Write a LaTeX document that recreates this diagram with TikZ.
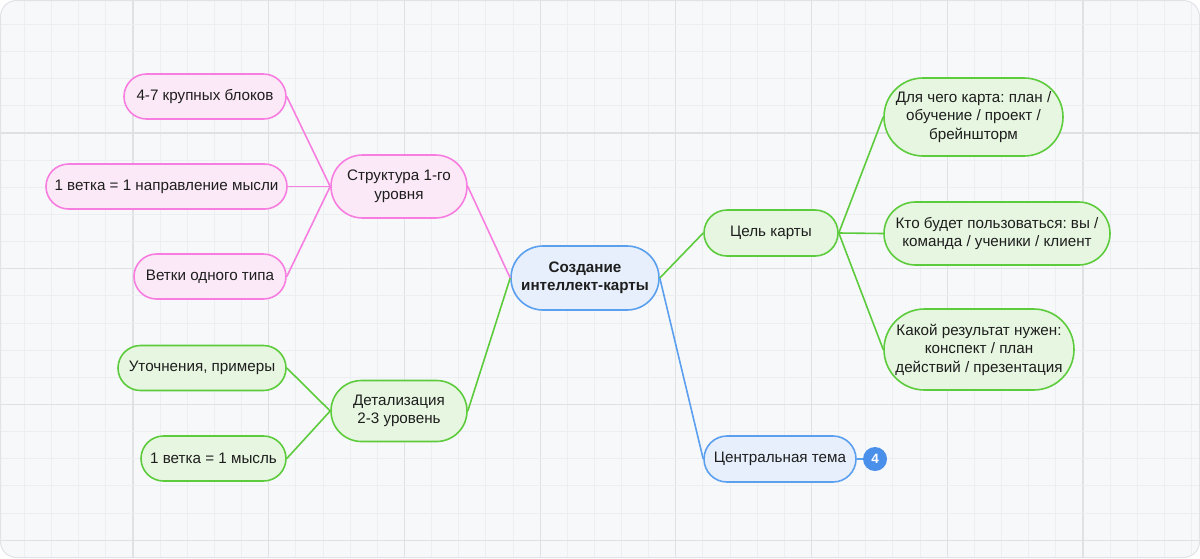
\documentclass[tikz,border=0pt]{standalone}
\usepackage{fontspec}
\setmainfont{Liberation Sans}
\frenchspacing
\usetikzlibrary{shapes.misc}
\definecolor{bgc}{HTML}{F7F8FA}
\definecolor{bgborder}{HTML}{E2E3E7}
\definecolor{gridminor}{HTML}{EDEEF1}
\definecolor{gridmajor}{HTML}{E0E1E5}
\definecolor{pinkline}{HTML}{F77EE0}
\definecolor{pinkfill}{HTML}{FBE9F7}
\definecolor{greenline}{HTML}{5CCB3C}
\definecolor{greenfill}{HTML}{E7F6E1}
\definecolor{blueline}{HTML}{5B9FEF}
\definecolor{bluefill}{HTML}{E6EFFB}
\definecolor{badgefill}{HTML}{4A8FEA}
\definecolor{txt}{HTML}{1E1E1E}
\tikzset{
  box/.style={rounded rectangle, draw, line width=1.6pt, inner sep=0pt, align=center,
    text=txt, font=\fontsize{15.2}{18.5}\selectfont\frenchspacing},
  pinkbox/.style={box, draw=pinkline, fill=pinkfill},
  greenbox/.style={box, draw=greenline, fill=greenfill},
  bluebox/.style={box, draw=blueline, fill=bluefill},
  pinkcon/.style={draw=pinkline, line width=1.6pt},
  greencon/.style={draw=greenline, line width=1.6pt},
  bluecon/.style={draw=blueline, line width=1.6pt},
}
\begin{document}
\begin{tikzpicture}[x=1pt,y=-1pt]
\useasboundingbox (0,0) rectangle (1200,558);
\fill[white] (0,0) rectangle (1200,558);
\begin{scope}
\path[clip, rounded corners=16pt] (0.5,0.5) rectangle (1199.5,557.5);
\fill[bgc] (0,0) rectangle (1200,558);
\foreach \k in {0,...,45}{
  \pgfmathsetmacro{\p}{-2.7+27.14*\k}
  \pgfmathtruncatemacro{\m}{mod(\k,5)}
  \ifnum\m=0
    \draw[gridmajor, line width=1.2pt] (\p,0) -- (\p,558);
  \else
    \draw[gridminor, line width=0.9pt] (\p,0) -- (\p,558);
  \fi
}
\foreach \k in {0,...,21}{
  \pgfmathsetmacro{\p}{-2.7+27.14*\k}
  \pgfmathtruncatemacro{\m}{mod(\k,5)}
  \ifnum\m=0
    \draw[gridmajor, line width=1.2pt] (0,\p) -- (1200,\p);
  \else
    \draw[gridminor, line width=0.9pt] (0,\p) -- (1200,\p);
  \fi
}
\end{scope}
\draw[bgborder, line width=1pt, rounded corners=16pt] (0.5,0.5) rectangle (1199.5,557.5);

% nodes
\node[bluebox, minimum width=148pt, minimum height=64pt, font=\fontsize{15.2}{18.5}\selectfont\bfseries] (c) at (585,278) {Создание\\интеллект-карты};

\node[pinkbox, minimum width=136pt, minimum height=63pt] (s) at (399,186.5) {Структура 1-го\\уровня};
\node[pinkbox, minimum width=162pt, minimum height=45pt] (p1) at (205,96.5) {4-7 крупных блоков};
\node[pinkbox, minimum width=241pt, minimum height=45pt] (p2) at (166.5,186.5) {1 ветка = 1 направление мысли};
\node[pinkbox, minimum width=152pt, minimum height=45pt] (p3) at (210,276.5) {Ветки одного типа};

\node[greenbox, minimum width=136pt, minimum height=61pt] (d) at (399,411) {Детализация\\2-3 уровень};
\node[greenbox, minimum width=168pt, minimum height=45pt] (g1) at (202,368) {Уточнения, примеры};
\node[greenbox, minimum width=145pt, minimum height=45pt] (g2) at (213.5,458.5) {1 ветка = 1 мысль};

\node[greenbox, minimum width=134pt, minimum height=46pt] (goal) at (771,233) {Цель карты};
\node[greenbox, minimum width=179pt, minimum height=78pt] (r1) at (973.5,117) {Для чего карта: план /\\обучение / проект /\\брейншторм};
\node[greenbox, minimum width=226pt, minimum height=63pt] (r2) at (997,233.5) {Кто будет пользоваться: вы /\\команда / ученики / клиент};
\node[greenbox, minimum width=190pt, minimum height=81pt] (r3) at (979,349.5) {Какой результат нужен:\\конспект / план\\действий / презентация};

\node[bluebox, minimum width=152pt, minimum height=46pt] (ct) at (780,459) {Центральная тема};
\node[circle, fill=badgefill, minimum size=24pt, inner sep=0pt, text=white, font=\fontsize{13.5}{13.5}\selectfont\bfseries] (b) at (875,459) {4};

% connectors
\draw[pinkcon] (c.west) -- (s.east);
\draw[pinkcon] (s.west) -- (p1.east);
\draw[pinkcon] (s.west) -- (p2.east);
\draw[pinkcon] (s.west) -- (p3.east);
\draw[greencon] (c.west) -- (d.east);
\draw[greencon] (d.west) -- (g1.east);
\draw[greencon] (d.west) -- (g2.east);
\draw[greencon] (c.east) -- (goal.west);
\draw[greencon] (goal.east) -- (r1.west);
\draw[greencon] (goal.east) -- (r2.west);
\draw[greencon] (goal.east) -- (r3.west);
\draw[bluecon] (c.east) -- (ct.west);
\draw[bluecon] (ct.east) -- (b.west);
\end{tikzpicture}
\end{document}
